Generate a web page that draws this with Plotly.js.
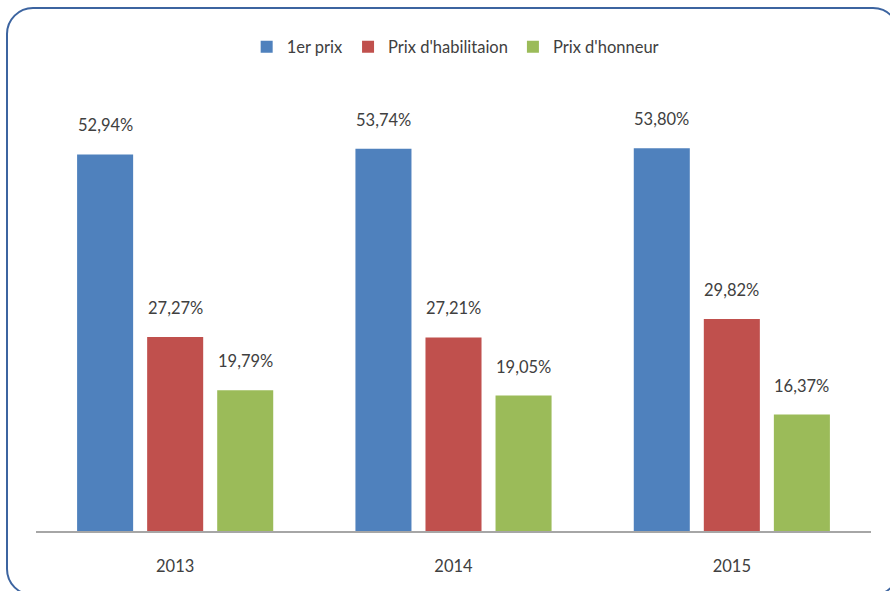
<!DOCTYPE html>
<html>
<head>
<meta charset="utf-8">
<script src="https://cdn.plot.ly/plotly-3.0.1.min.js"></script>
<style>
  html, body { margin: 0; padding: 0; width: 890px; height: 591px; overflow: hidden; background: #ffffff; }
  #frame { position: absolute; left: 6px; top: 7px; width: 894px; height: 589px; border: 2.5px solid #3c64a0; border-radius: 27px; box-sizing: border-box; }
  #chart { position: absolute; left: 0; top: 0; width: 890px; height: 591px; }
</style>
</head>
<body>
<div id="frame"></div>
<div id="chart"></div>
<script>
const years = ["2013", "2014", "2015"];
const seriesNames = ["1er prix", "Prix d'habilitaion", "Prix d'honneur"];
const premierPrix = [52.94, 53.74, 53.80];
const prixHabilitation = [27.27, 27.21, 29.82];
const prixHonneur = [19.79, 19.05, 16.37];
const colors = ["#4f81bd", "#c0504d", "#9bbb59"];

const allValues = [premierPrix, prixHabilitation, prixHonneur];
const bargap = 0.245;
const fmt = v => v.toFixed(2).replace(".", ",") + "%";

const traces = allValues.map((vals, k) => ({
  type: "bar",
  name: seriesNames[k],
  x: years,
  y: vals,
  marker: { color: colors[k] },
  hoverinfo: "none"
}));

const nTr = allValues.length;
const slot = (1 - bargap) / nTr;
const annotations = [];
allValues.forEach((vals, k) => {
  vals.forEach((v, i) => {
    annotations.push({
      xref: "x", yref: "y",
      x: i + (k - (nTr - 1) / 2) * slot,
      y: v,
      text: fmt(v),
      showarrow: false,
      yanchor: "bottom",
      yshift: 17,
      font: { family: "Lato, sans-serif", size: 16.5, color: "#404040" }
    });
  });
});

const layout = {
  width: 890, height: 591,
  paper_bgcolor: "rgba(0,0,0,0)",
  plot_bgcolor: "rgba(0,0,0,0)",
  margin: { l: 36, r: 19, t: 90, b: 60 },
  barmode: "group",
  bargap: bargap,
  bargroupgap: 0.2,
  font: { family: "Lato, sans-serif", size: 16.5, color: "#404040" },
  showlegend: true,
  legend: {
    orientation: "h",
    x: 0.502, xanchor: "center",
    y: 1.0975, yanchor: "middle",
    font: { family: "Lato, sans-serif", size: 16.5, color: "#404040" },
    bgcolor: "rgba(0,0,0,0)"
  },
  xaxis: {
    type: "category",
    showgrid: false,
    zeroline: false,
    showline: true,
    linecolor: "#a6a6a6",
    linewidth: 2,
    ticks: "outside",
    ticklen: 19,
    tickcolor: "rgba(0,0,0,0)",
    tickfont: { family: "Lato, sans-serif", size: 16.5, color: "#404040" },
    fixedrange: true
  },
  yaxis: {
    range: [0, 62],
    visible: false,
    showgrid: false,
    zeroline: false,
    fixedrange: true
  },
  annotations: annotations
};

Plotly.newPlot("chart", traces, layout, { displayModeBar: false, staticPlot: true });
</script>
</body>
</html>
